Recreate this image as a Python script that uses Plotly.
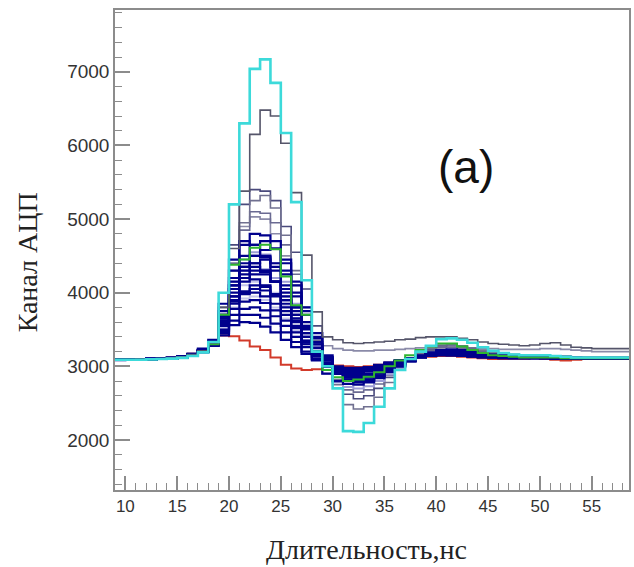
import plotly.graph_objects as go

# bin edges (ns): bins 9..58, 1 ns wide
bin_lo = list(range(9, 59))
x_edges = bin_lo + [59]

red = [3090,3090,3095,3100,3110,3120,3140,3170,3220,3300,
       3420,3410,3350,3270,3220,3120,3020,2970,2950,2960,
       3000,3010,3000,2990,3000,3020,3050,3080,3100,3120,
       3130,3140,3140,3130,3120,3110,3100,3100,3100,3100,
       3110,3100,3090,3080,3090,3100,3100,3110,3110,3110]

cyan = [3090,3090,3090,3095,3100,3105,3115,3140,3190,3330,
        4000,5200,6300,7040,7170,6850,6170,5230,4170,3200,
        3000,2700,2120,2110,2230,2450,2700,2950,3100,3200,
        3280,3370,3380,3360,3320,3260,3210,3180,3160,3150,
        3150,3150,3140,3130,3120,3120,3120,3120,3120,3120]

gray1 = [3090,3090,3095,3100,3105,3115,3130,3160,3210,3320,
         3800,4600,5380,6150,6480,6400,6030,5360,4510,3740,
         3400,3360,3320,3310,3320,3330,3340,3360,3370,3390,
         3400,3400,3400,3380,3360,3330,3310,3300,3290,3280,
         3290,3310,3320,3290,3260,3250,3240,3240,3240,3240]

green = [3090,3090,3090,3095,3100,3110,3125,3150,3200,3300,
         3700,4380,4450,4610,4650,4590,4220,3830,3700,3200,
         2950,2850,2800,2820,2860,2920,3000,3080,3150,3220,
         3270,3310,3310,3270,3220,3180,3150,3140,3130,3120,
         3120,3120,3120,3110,3110,3110,3110,3110,3110,3110]

g2 = [3090,3090,3095,3100,3105,3115,3130,3160,3220,3350,
      3800,4650,5200,5400,5380,5250,4900,4550,4050,3550,
      3100,2800,2620,2560,2600,2700,2850,2980,3080,3160,
      3230,3280,3290,3270,3240,3210,3190,3170,3160,3150,
      3150,3150,3140,3140,3130,3130,3130,3130,3130,3130]

g3 = [3090,3090,3090,3095,3100,3110,3125,3150,3200,3300,
      3700,4300,4950,5250,5320,5150,4780,4300,3750,3350,
      3000,2750,2480,2420,2450,2580,2780,2950,3080,3170,
      3240,3290,3300,3280,3250,3220,3190,3170,3160,3150,
      3150,3140,3140,3130,3130,3130,3130,3130,3130,3130]

g4 = [3090,3090,3095,3100,3110,3120,3140,3170,3230,3330,
      3750,4400,4900,5030,5000,4800,4500,4100,3750,3450,
      3280,3240,3220,3210,3210,3220,3220,3230,3240,3250,
      3260,3270,3270,3260,3250,3240,3240,3230,3230,3230,
      3230,3240,3240,3230,3220,3210,3200,3200,3200,3200]

g5 = [3090,3090,3090,3095,3100,3110,3125,3150,3210,3320,
      3750,4400,4850,5100,5080,4950,4650,4250,3800,3400,
      3050,2820,2680,2650,2680,2760,2880,2990,3080,3150,
      3210,3250,3260,3240,3210,3190,3170,3150,3140,3130,
      3130,3130,3130,3120,3120,3120,3120,3120,3120,3120]

navy = {
    "n1": [3090,3090,3095,3100,3105,3115,3130,3160,3210,3320,
           3750,4300,4650,4800,4780,4700,4450,4150,3800,3450,
           3150,2950,2850,2820,2850,2900,2970,3040,3100,3150,
           3190,3220,3230,3220,3200,3180,3160,3150,3140,3130,
           3130,3130,3120,3120,3120,3110,3110,3110,3110,3110],
    "n2": [3085,3090,3090,3095,3100,3110,3125,3150,3200,3300,
           3700,4200,4500,4650,4700,4600,4300,3950,3600,3300,
           3050,2900,2800,2780,2800,2860,2940,3020,3080,3130,
           3170,3200,3210,3200,3180,3160,3150,3140,3130,3120,
           3120,3120,3120,3110,3110,3110,3100,3100,3100,3100],
    "n3": [3090,3090,3090,3095,3100,3110,3120,3150,3200,3290,
           3650,4100,4400,4500,4480,4350,4100,3800,3500,3250,
           3020,2900,2850,2830,2850,2900,2960,3030,3090,3140,
           3180,3200,3200,3190,3170,3150,3140,3130,3120,3120,
           3120,3120,3110,3110,3110,3110,3110,3110,3110,3110],
    "n4": [3090,3090,3095,3100,3105,3115,3135,3170,3230,3340,
           3700,4150,4350,4400,4300,4150,3900,3650,3400,3200,
           3000,2920,2880,2870,2890,2930,2990,3050,3100,3140,
           3170,3190,3190,3180,3160,3150,3140,3130,3130,3120,
           3120,3120,3120,3110,3110,3110,3110,3110,3110,3110],
    "n5": [3090,3090,3090,3095,3100,3110,3125,3155,3210,3300,
           3620,4000,4200,4300,4280,4150,3950,3700,3450,3250,
           3050,2950,2900,2880,2900,2950,3000,3050,3100,3130,
           3160,3180,3180,3170,3160,3150,3140,3130,3120,3120,
           3120,3125,3120,3110,3110,3110,3110,3110,3110,3110],
    "n6": [3090,3090,3095,3100,3100,3110,3130,3160,3220,3320,
           3650,4050,4200,4180,4100,3950,3750,3550,3350,3180,
           3020,2950,2920,2910,2930,2970,3020,3070,3110,3140,
           3160,3170,3170,3160,3150,3140,3130,3130,3120,3120,
           3120,3120,3110,3110,3110,3110,3110,3100,3100,3100],
    "n7": [3090,3090,3090,3095,3100,3105,3120,3145,3190,3280,
           3550,3850,4000,4100,4080,3980,3800,3600,3400,3200,
           3000,2900,2870,2860,2880,2920,2980,3040,3090,3130,
           3160,3180,3180,3170,3150,3140,3130,3120,3120,3120,
           3110,3110,3110,3110,3100,3100,3100,3100,3100,3100],
    "n8": [3090,3090,3095,3100,3105,3115,3130,3165,3220,3310,
           3580,3880,3980,4000,3950,3850,3700,3520,3330,3170,
           3030,2960,2930,2920,2940,2980,3030,3070,3110,3140,
           3160,3170,3170,3160,3150,3140,3130,3120,3120,3120,
           3120,3120,3115,3110,3110,3110,3110,3110,3110,3110],
    "n9": [3090,3090,3090,3095,3100,3110,3125,3150,3200,3290,
           3500,3780,3880,3900,3860,3760,3620,3460,3300,3150,
           3020,2960,2940,2930,2950,2990,3030,3070,3100,3130,
           3150,3160,3160,3150,3140,3130,3120,3120,3110,3110,
           3110,3110,3110,3110,3100,3100,3100,3100,3100,3100],
    "n10": [3090,3090,3095,3095,3100,3110,3130,3160,3210,3290,
            3480,3700,3780,3800,3760,3680,3550,3400,3260,3130,
            3020,2980,2960,2950,2970,3000,3040,3080,3110,3130,
            3150,3160,3160,3150,3140,3130,3120,3120,3110,3110,
            3110,3110,3110,3100,3100,3100,3100,3100,3100,3100],
    "n11": [3090,3090,3090,3100,3105,3110,3125,3150,3200,3300,
            3650,4050,4350,4500,4580,4600,4400,4100,3750,3400,
            3100,2920,2820,2790,2810,2860,2930,3000,3070,3120,
            3170,3200,3210,3200,3180,3160,3150,3140,3130,3120,
            3120,3120,3120,3110,3110,3110,3110,3110,3110,3110],
    "n12": [3090,3090,3095,3100,3100,3110,3130,3160,3210,3300,
            3600,3950,4150,4250,4250,4150,4000,3800,3550,3300,
            3080,2960,2890,2870,2880,2920,2980,3040,3090,3130,
            3170,3190,3190,3180,3160,3150,3140,3130,3120,3120,
            3120,3120,3110,3110,3110,3110,3110,3110,3110,3110],
    "n13": [3090,3090,3095,3100,3105,3115,3135,3170,3240,3360,
            3850,4450,4700,4650,4500,4300,4050,3750,3450,3200,
            3000,2900,2860,2850,2870,2920,2980,3040,3090,3140,
            3180,3200,3200,3190,3170,3150,3140,3130,3120,3120,
            3120,3120,3120,3110,3110,3110,3110,3110,3110,3110],
    "n14": [3090,3090,3090,3095,3100,3110,3125,3150,3195,3280,
            3560,3950,4250,4400,4450,4400,4250,4000,3700,3380,
            3120,2950,2850,2810,2820,2870,2940,3010,3070,3120,
            3160,3190,3200,3190,3170,3150,3140,3130,3120,3120,
            3120,3120,3110,3110,3110,3110,3110,3110,3110,3110],
    "n15": [3090,3090,3090,3095,3100,3105,3120,3150,3200,3280,
            3450,3620,3700,3700,3660,3580,3460,3330,3200,3100,
            3010,2980,2970,2960,2980,3010,3050,3080,3110,3130,
            3150,3160,3150,3140,3130,3120,3120,3110,3110,3110,
            3110,3110,3100,3100,3100,3100,3100,3100,3100,3100],
    "n16": [3090,3090,3095,3100,3105,3115,3130,3160,3220,3320,
            3680,4100,4300,4350,4300,4150,3900,3620,3320,3080,
            2900,2800,2760,2750,2780,2840,2920,3000,3070,3130,
            3180,3210,3220,3210,3190,3170,3150,3140,3130,3120,
            3120,3120,3120,3110,3110,3110,3110,3110,3110,3110],
    "n17": [3090,3090,3090,3095,3100,3110,3125,3155,3210,3300,
            3580,3900,4020,4050,4030,3970,3850,3700,3520,3330,
            3130,3000,2950,2930,2940,2970,3020,3060,3100,3130,
            3160,3180,3180,3170,3150,3140,3130,3120,3120,3120,
            3120,3110,3110,3110,3110,3110,3100,3100,3100,3100],
    "n18": [3090,3090,3095,3100,3105,3115,3130,3160,3210,3290,
            3420,3560,3600,3590,3540,3460,3360,3260,3170,3090,
            3020,2990,2980,2980,2990,3020,3050,3080,3100,3120,
            3140,3150,3150,3140,3130,3120,3120,3110,3110,3110,
            3110,3110,3100,3100,3100,3100,3100,3100,3100,3100],
}

light = {
    "l1": [3090,3090,3090,3095,3100,3110,3125,3150,3200,3300,
           3700,4150,4450,4550,4520,4400,4150,3850,3550,3280,
           3050,2900,2830,2800,2830,2880,2950,3020,3080,3130,
           3170,3200,3200,3190,3170,3150,3140,3130,3120,3120,
           3120,3120,3120,3110,3110,3110,3110,3110,3110,3110],
    "l2": [3090,3090,3095,3100,3100,3110,3125,3160,3210,3300,
           3580,3950,4100,4150,4100,4000,3820,3620,3400,3220,
           3060,2970,2930,2920,2930,2970,3020,3060,3100,3130,
           3160,3170,3180,3170,3150,3140,3130,3120,3120,3120,
           3120,3120,3110,3110,3110,3110,3110,3110,3110,3110],
    "l3": [3090,3090,3090,3095,3100,3110,3125,3155,3210,3310,
           3680,4100,4300,4350,4320,4200,3950,3650,3350,3100,
           2900,2780,2720,2700,2730,2800,2890,2980,3060,3120,
           3170,3200,3210,3200,3180,3160,3140,3130,3120,3120,
           3120,3120,3110,3110,3110,3110,3110,3110,3110,3110],
    "l4": [3090,3090,3090,3095,3100,3110,3125,3150,3200,3290,
           3520,3800,3920,3950,3900,3800,3650,3480,3300,3150,
           3010,2950,2920,2910,2930,2970,3020,3060,3100,3130,
           3150,3160,3160,3150,3140,3130,3120,3120,3110,3110,
           3110,3110,3110,3110,3100,3100,3100,3100,3100,3100],
}

x_ticks = [10, 15, 20, 25, 30, 35, 40, 45, 50, 55]
y_ticks = [2000, 3000, 4000, 5000, 6000, 7000]

fig = go.Figure()


def add(vals, color, width=2.0):
    fig.add_trace(go.Scatter(
        x=x_edges, y=vals + [vals[-1]], mode="lines",
        line=dict(color=color, width=width, shape="hv"),
        showlegend=False, hoverinfo="skip"))


add(red, "#d23a2a")
add(g4, "#8a8aa8", 1.6)
add(g5, "#6a6a92", 1.6)
add(g2, "#4a4a7c", 1.6)
add(g3, "#707090", 1.6)
for k, v in light.items():
    add(v, "#9d9dd6" if k in ("l1", "l3") else "#c2c2ea")
for k, v in navy.items():
    add(v, "#00008c", 2.2)
add(green, "#2fb52f")
add(gray1, "#55556a", 1.6)
add(cyan, "#3cdada", 2.6)

axis_col = "#8c8c8c"
fig.update_layout(
    width=634, height=567,
    margin=dict(l=115, r=3, t=10, b=77),
    paper_bgcolor="white", plot_bgcolor="white",
    font=dict(family="Liberation Sans, Arial, sans-serif", color="#333333"),
    xaxis=dict(range=[9, 58.6], tickvals=x_ticks, ticks="inside", ticklen=14,
               tickwidth=1.5, tickcolor=axis_col, showline=True, linecolor=axis_col,
               linewidth=1.5, mirror=True, showgrid=False, zeroline=False,
               tickfont=dict(size=17, color="#333333"),
               minor=dict(dtick=1, ticks="inside", ticklen=7, tickwidth=1.2,
                          tickcolor=axis_col, showgrid=False)),
    yaxis=dict(range=[1320, 7840], tickvals=y_ticks, ticks="inside", ticklen=15,
               tickwidth=1.5, tickcolor=axis_col, showline=True, linecolor=axis_col,
               linewidth=1.5, mirror=True, showgrid=False, zeroline=False,
               tickfont=dict(size=19, color="#333333"),
               minor=dict(dtick=200, ticks="inside", ticklen=7, tickwidth=1.2,
                          tickcolor=axis_col, showgrid=False)),
    annotations=[
        dict(text="(a)", xref="paper", yref="paper", x=0.682, y=0.673,
             showarrow=False, xanchor="center", yanchor="middle",
             font=dict(family="Liberation Sans, Arial, sans-serif", size=46, color="#111111")),
        dict(text="Длительность,нс", xref="paper", yref="paper", x=0.49, y=-0.123,
             showarrow=False, xanchor="center", yanchor="middle",
             font=dict(family="Liberation Serif, Times New Roman, serif", size=28, color="#222222")),
        dict(text="Канал АЦП", xref="paper", yref="paper", x=-0.1705, y=0.475,
             showarrow=False, xanchor="center", yanchor="middle", textangle=-90,
             font=dict(family="Liberation Serif, Times New Roman, serif", size=28, color="#222222")),
    ],
)

fig.write_html("out.html")
